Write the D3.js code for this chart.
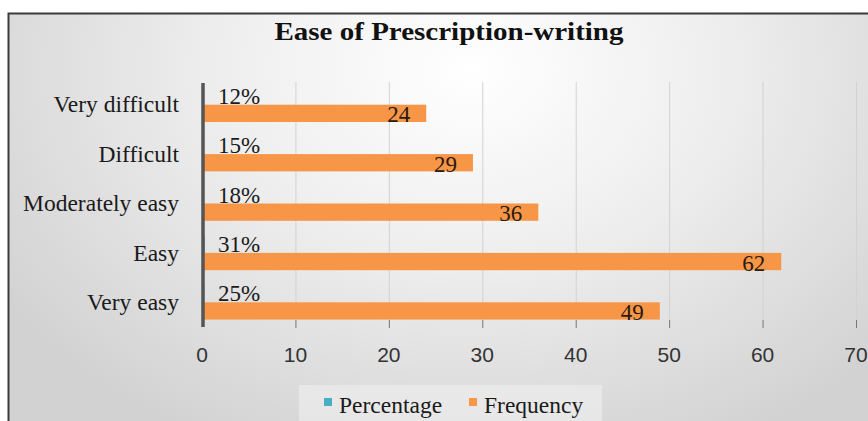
<!DOCTYPE html>
<html>
<head>
<meta charset="utf-8">
<script src="https://cdn.jsdelivr.net/npm/d3@7"></script>
<style>
  body { margin: 0; background: #fff; }
  svg { display: block; }
</style>
</head>
<body>
<svg id="chart"></svg>
<script>
const width = 868;
const height = 421;

// data
const categories = ["Very difficult", "Difficult", "Moderately easy", "Easy", "Very easy"];
const percentage = [0.12, 0.15, 0.18, 0.31, 0.25];
const frequency = [24, 29, 36, 62, 49];
const xTicks = [0, 10, 20, 30, 40, 50, 60, 70];
const seriesNames = ["Percentage", "Frequency"];
const seriesColors = ["#4BACC6", "#F79646"];

const serif = "'Liberation Serif', 'Times New Roman', serif";
const sans = "'Liberation Sans', Arial, sans-serif";

const svg = d3.select("#chart")
    .attr("width", width)
    .attr("height", height)
    .attr("viewBox", [0, 0, width, height]);

// chart area background
const defs = svg.append("defs");
const grad = defs.append("radialGradient")
    .attr("id", "bg")
    .attr("gradientUnits", "userSpaceOnUse")
    .attr("cx", 470).attr("cy", 70).attr("r", 560)
    .attr("gradientTransform", "translate(470,70) scale(1,0.75) translate(-470,-70)");
grad.append("stop").attr("offset", "0%").attr("stop-color", "#ffffff");
grad.append("stop").attr("offset", "45%").attr("stop-color", "#eeeeee");
grad.append("stop").attr("offset", "100%").attr("stop-color", "#d2d2d2");

svg.append("rect")
    .attr("x", 8).attr("y", 13)
    .attr("width", width - 8).attr("height", height - 13)
    .attr("fill", "url(#bg)");

svg.append("path")
    .attr("d", `M8.5,${height} V13.5 H${width}`)
    .attr("fill", "none")
    .attr("stroke", "#3a3a3a")
    .attr("stroke-width", 2);

// scales
const x = d3.scaleLinear().domain([0, 70]).range([202, 856]);
const y = d3.scaleBand()
    .domain(categories)
    .range([80, 327])
    .paddingInner(0.3)
    .paddingOuter(0.15);
const ySub = d3.scaleBand()
    .domain(seriesNames)
    .range([0, y.bandwidth()]);

// gridlines
const grid = svg.append("g");
grid.selectAll("line.grid")
    .data(xTicks.slice(1))
    .join("line")
    .attr("class", "grid")
    .attr("x1", d => x(d) + 0.5).attr("x2", d => x(d) + 0.5)
    .attr("y1", 82).attr("y2", 321)
    .attr("stroke", "#d2d2d2")
    .attr("stroke-width", 1);
grid.selectAll("line.tick")
    .data(xTicks.slice(1))
    .join("line")
    .attr("class", "tick")
    .attr("x1", d => x(d) + 0.5).attr("x2", d => x(d) + 0.5)
    .attr("y1", 320).attr("y2", 328)
    .attr("stroke", "#777")
    .attr("stroke-width", 1);

// bars
const series = [percentage, frequency];
series.forEach((vals, s) => {
    svg.append("g")
        .selectAll("rect")
        .data(vals)
        .join("rect")
        .attr("x", x(0))
        .attr("y", (d, i) => y(categories[i]) + ySub(seriesNames[s]))
        .attr("width", d => x(d) - x(0))
        .attr("height", ySub.bandwidth())
        .attr("fill", seriesColors[s]);
});

// y axis line
svg.append("line")
    .attr("x1", x(0) + 1).attr("x2", x(0) + 1)
    .attr("y1", 83).attr("y2", 327)
    .attr("stroke", "#555")
    .attr("stroke-width", 3.5);

// category labels
svg.append("g")
    .selectAll("text")
    .data(categories)
    .join("text")
    .attr("x", 179)
    .attr("y", d => y(d) + y.bandwidth() / 2)
    .attr("dy", "0.33em")
    .attr("text-anchor", "end")
    .attr("font-family", serif)
    .attr("font-size", 23.5)
    .attr("fill", "#1a1a1a")
    .text(d => d);

// percentage labels
svg.append("g")
    .selectAll("text")
    .data(percentage)
    .join("text")
    .attr("x", x(0) + 16)
    .attr("y", (d, i) => y(categories[i]) + ySub.bandwidth() - 1)
    .attr("font-family", serif)
    .attr("font-size", 23)
    .attr("fill", "#1a1a1a")
    .text(d => Math.round(d * 100) + "%");

// frequency labels
svg.append("g")
    .selectAll("text")
    .data(frequency)
    .join("text")
    .attr("x", d => x(d) - 16)
    .attr("y", (d, i) => y(categories[i]) + ySub("Frequency") + ySub.bandwidth() + 0.5)
    .attr("text-anchor", "end")
    .attr("font-family", serif)
    .attr("font-size", 23)
    .attr("fill", "#2a1a10")
    .text(d => d);

// x tick labels
svg.append("g")
    .selectAll("text")
    .data(xTicks)
    .join("text")
    .attr("x", d => x(d))
    .attr("y", 362)
    .attr("text-anchor", "middle")
    .attr("font-family", sans)
    .attr("font-size", 21)
    .attr("fill", "#333")
    .text(d => d);

// title
svg.append("text")
    .attr("x", 449)
    .attr("y", 40)
    .attr("text-anchor", "middle")
    .attr("font-family", serif)
    .attr("font-weight", "bold")
    .attr("font-size", 26)
    .attr("textLength", 349)
    .attr("lengthAdjust", "spacingAndGlyphs")
    .attr("fill", "#111")
    .text("Ease of Prescription-writing");

// legend
const legend = svg.append("g");
legend.append("rect")
    .attr("x", 299).attr("y", 385)
    .attr("width", 303).attr("height", height - 385)
    .attr("fill", "#f0f0f0")
    .attr("opacity", 0.6);
const legendX = [324, 469];
const legendItems = legend.selectAll("g")
    .data(seriesNames)
    .join("g")
    .attr("transform", (d, i) => `translate(${legendX[i]},0)`);
legendItems.append("rect")
    .attr("x", 0).attr("y", 398)
    .attr("width", 8).attr("height", 8)
    .attr("fill", (d, i) => seriesColors[i]);
legendItems.append("text")
    .attr("x", 15).attr("y", 413)
    .attr("font-family", serif)
    .attr("font-size", 23.5)
    .attr("fill", "#1a1a1a")
    .text(d => d);
</script>
</body>
</html>
